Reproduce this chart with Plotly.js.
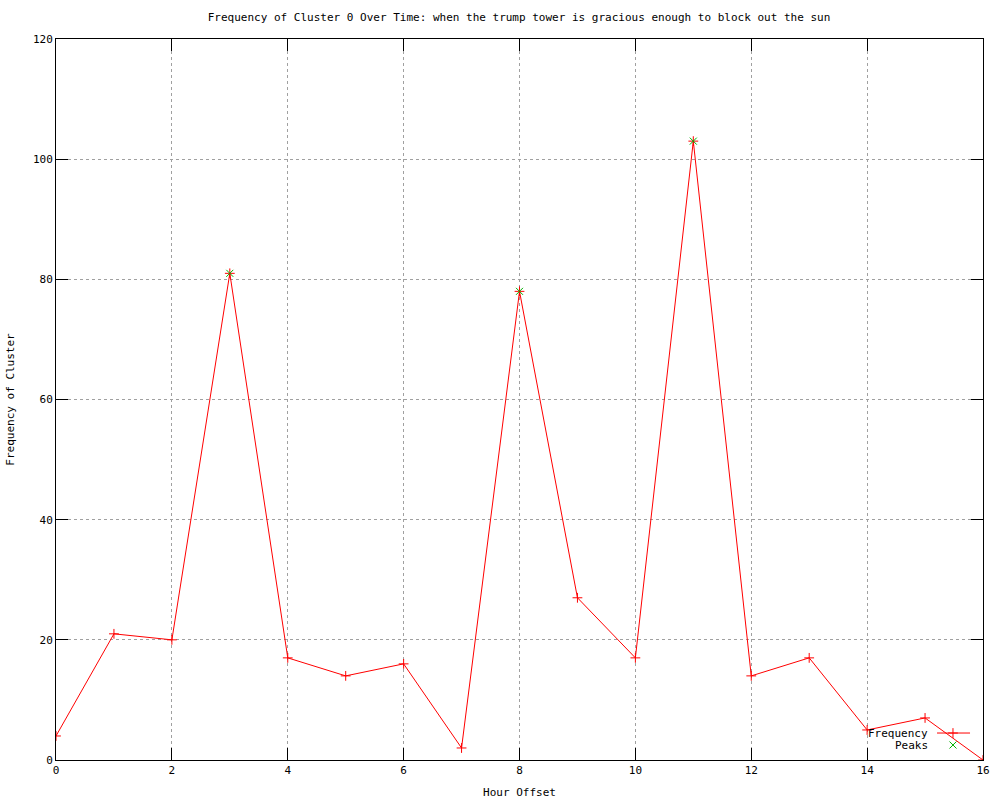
<!DOCTYPE html>
<html><head><meta charset="utf-8">
<script src="https://cdn.plot.ly/plotly-3.0.1.min.js"></script>
<style>body{margin:0;background:#fff}#c{width:1000px;height:800px}</style>
</head><body><div id="c"></div>
<script>
const hours = [0,1,2,3,4,5,6,7,8,9,10,11,12,13,14,15,16];
const frequency = [4,21,20,81,17,14,16,2,78,27,17,103,14,17,5,7,0];
const peakHours = [3,8,11];
const peakValues = [81,78,103];
const legendLabels = ["Frequency","Peaks"];
const titleText = "Frequency of Cluster 0 Over Time: when the trump tower is gracious enough to block out the sun";
const xTitle = "Hour Offset";
const yTitle = "Frequency of Cluster";

const FONT = "DejaVu Sans Mono, monospace";
const RED = "#ff0000", GREEN = "#00b000";

function mk(symbol, color) {
  return {symbol: symbol, size: 7, color: color, line: {color: color, width: 1}};
}

const traces = [
  {x: hours, y: frequency, type: "scatter", mode: "lines+markers", name: legendLabels[0],
   line: {color: RED, width: 1}, marker: mk("cross-thin-open", RED), showlegend: false},
  {x: peakHours, y: peakValues, type: "scatter", mode: "markers", name: legendLabels[1],
   marker: mk("x-thin-open", GREEN), showlegend: false},
  // legend samples on a hidden unit overlay axis
  {x: [0.9504, 0.986], y: [0.0374, 0.0374], xaxis: "x2", yaxis: "y2", type: "scatter", mode: "lines",
   line: {color: RED, width: 1}, showlegend: false, hoverinfo: "skip"},
  {x: [0.9676], y: [0.0374], xaxis: "x2", yaxis: "y2", type: "scatter", mode: "markers",
   marker: mk("cross-thin-open", RED), showlegend: false, hoverinfo: "skip"},
  {x: [0.9676], y: [0.0208], xaxis: "x2", yaxis: "y2", type: "scatter", mode: "markers",
   marker: mk("x-thin-open", GREEN), showlegend: false, hoverinfo: "skip"}
];

const axisCommon = {
  showline: true, linecolor: "#000", linewidth: 1, mirror: "ticks",
  ticks: "inside", ticklen: 12, tickcolor: "#000", tickwidth: 1,
  showgrid: true, gridcolor: "#a0a0a0", griddash: "3px,3px", gridwidth: 1,
  zeroline: false, tickfont: {family: FONT, size: 11, color: "#000"}
};

const layout = {
  width: 1000, height: 800,
  margin: {l: 56, r: 17, t: 39, b: 40},
  paper_bgcolor: "#fff", plot_bgcolor: "#fff",
  font: {family: FONT, size: 11, color: "#000"},
  title: {text: titleText, x: 0.519, xanchor: "center", y: 0.978, yanchor: "middle",
          font: {family: FONT, size: 11, color: "#000"}},
  xaxis: Object.assign({}, axisCommon, {range: [0, 16], dtick: 2, tick0: 0,
          title: {text: xTitle, standoff: 12, font: {family: FONT, size: 11}}}),
  yaxis: Object.assign({}, axisCommon, {range: [0, 120], dtick: 20, tick0: 0,
          title: {text: yTitle, standoff: 16, font: {family: FONT, size: 11}}}),
  xaxis2: {overlaying: "x", range: [0, 1], visible: false, fixedrange: true},
  yaxis2: {overlaying: "y", range: [0, 1], visible: false, fixedrange: true},
  showlegend: false,
  annotations: [
    {xref: "x2", yref: "y2", x: 0.9428, y: 0.0374, text: legendLabels[0], showarrow: false,
     xanchor: "right", yanchor: "middle", font: {family: FONT, size: 11, color: "#000"}},
    {xref: "x2", yref: "y2", x: 0.9428, y: 0.0208, text: legendLabels[1], showarrow: false,
     xanchor: "right", yanchor: "middle", font: {family: FONT, size: 11, color: "#000"}}
  ]
};

Plotly.newPlot("c", traces, layout, {displayModeBar: false, staticPlot: true});
</script>
</body></html>
